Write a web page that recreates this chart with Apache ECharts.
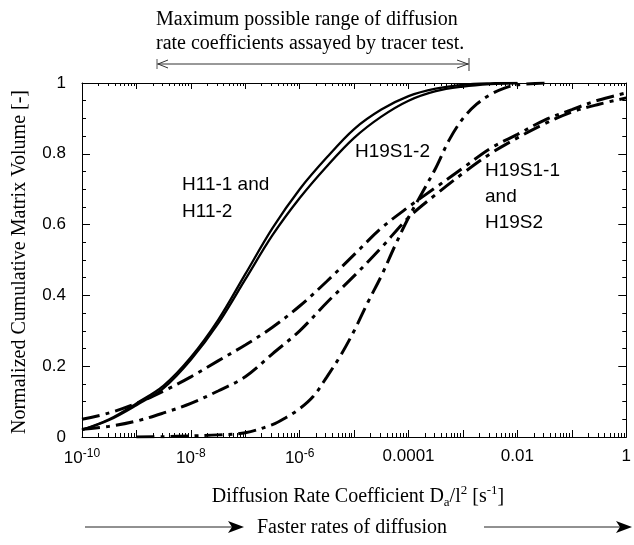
<!DOCTYPE html>
<html><head><meta charset="utf-8">
<script src="https://cdn.jsdelivr.net/npm/echarts@6/dist/echarts.min.js"></script>
<style>html,body{margin:0;padding:0;background:#fff}#c{width:634px;height:545px}</style>
</head><body><div id="c"></div>
<script>
// ---------- data ----------
// x samples: half-decade steps of Da/l^2 [1/s]
const halfDecadeD = [1e-10, 3.16e-10, 1e-9, 3.16e-9, 1e-8, 3.16e-8, 1e-7, 3.16e-7, 1e-6, 3.16e-6,
  1e-5, 3.16e-5, 1e-4, 3.16e-4, 1e-3, 3.16e-3, 1e-2, 3.16e-2, 0.1, 0.316, 1];
// solid curves (end at 0.01, where they reach 1)
const h11_1 = [0.02, 0.05, 0.095, 0.145, 0.225, 0.33, 0.46, 0.59, 0.70, 0.79, 0.87, 0.925, 0.963, 0.984, 0.995, 0.999, 1.0];
const h11_2 = [0.02, 0.048, 0.09, 0.138, 0.218, 0.32, 0.445, 0.57, 0.675, 0.765, 0.845, 0.905, 0.95, 0.977, 0.99, 0.997, 1.0];
// shallow dash-dot curves
const h19s1_1 = [0.05, 0.068, 0.095, 0.13, 0.17, 0.215, 0.26, 0.31, 0.37, 0.44, 0.515, 0.59, 0.65, 0.705, 0.76, 0.815, 0.855, 0.895, 0.925, 0.952, 0.972];
const h19s2   = [0.022, 0.03, 0.045, 0.068, 0.095, 0.13, 0.17, 0.235, 0.30, 0.38, 0.455, 0.535, 0.62, 0.685, 0.745, 0.80, 0.845, 0.885, 0.918, 0.94, 0.958];
// steep dash-dot curve H19S1-2 (quarter-decade samples)
const steepD = [1e-9, 3.16e-9, 1e-8, 3.16e-8, 1e-7, 3.16e-7, 5.62e-7, 1e-6, 1.78e-6, 3.16e-6, 5.62e-6,
  1e-5, 1.78e-5, 3.16e-5, 5.62e-5, 1e-4, 1.78e-4, 3.16e-4, 5.62e-4, 1e-3, 1.78e-3, 3.16e-3, 5.62e-3, 1e-2, 3.16e-2];
const h19s1_2 = [0, 0.001, 0.003, 0.006, 0.012, 0.035, 0.055, 0.08, 0.115, 0.17, 0.23,
  0.30, 0.38, 0.455, 0.54, 0.62, 0.69, 0.76, 0.84, 0.90, 0.94, 0.967, 0.985, 0.995, 1.0];

// tick labels
const xTickValues = [1e-10, 1e-8, 1e-6, 1e-4, 1e-2, 1];
const xTickText = ['10{sup|-10}', '10{sup|-8}', '10{sup|-6}', '0.0001', '0.01', '1'];
const yTickValues = [0, 0.2, 0.4, 0.6, 0.8, 1];

// ---------- helpers ----------
const SERIF = '"Liberation Serif","Times New Roman",serif';
const SANS = '"Liberation Sans",Arial,sans-serif';
const decadeTicks = [];
const minorTicks = [];
for (let e = -10; e <= 0; e++) {
  decadeTicks.push(Number('1e' + e));
  if (e < 0) for (let m = 2; m <= 9; m++) minorTicks.push(Number(m + 'e' + e));
}
function pairs(xs, ys) { return ys.map((y, i) => [xs[i], y]); }
function xLabel(v) {
  const i = xTickValues.findIndex(t => Math.abs(Math.log10(t) - Math.log10(v)) < 1e-6);
  return i >= 0 ? xTickText[i] : '';
}
const ink = '#000';
const solid = { color: ink, width: 2.3, type: 'solid' };
const dashdot = { color: ink, width: 3, type: [18, 6, 4, 6] };

function xAxisDef(pos, ticks, len, withLine, withLabel) {
  return {
    type: 'log', logBase: 10, min: 1e-10, max: 1, position: pos,
    axisLine: { show: withLine, lineStyle: { color: ink, width: 1 } },
    axisTick: { show: true, inside: true, length: len, customValues: ticks, lineStyle: { color: ink, width: 1 } },
    minorTick: { show: false },
    splitLine: { show: false },
    axisLabel: withLabel ? {
      show: true, customValues: xTickValues, formatter: xLabel, margin: 11,
      color: ink, fontSize: 17, fontFamily: SANS,
      rich: { sup: { fontSize: 12, fontFamily: SANS, color: ink, padding: [0, 0, 9, 0] } }
    } : { show: false }
  };
}
function yAxisDef(pos, withLabel) {
  return {
    type: 'value', min: 0, max: 1, interval: 0.2, position: pos,
    axisLine: { show: true, lineStyle: { color: ink, width: 1 } },
    axisTick: { show: true, inside: true, length: 8, lineStyle: { color: ink } },
    minorTick: { show: true, splitNumber: 4, length: 4, lineStyle: { color: ink } },
    splitLine: { show: false },
    axisLabel: withLabel ? {
      show: true, margin: 16, color: ink, fontSize: 17, fontFamily: SANS,
      customValues: yTickValues,
      formatter: v => (v === 0 ? '0' : v === 1 ? '1' : String(Math.round(v * 10) / 10))
    } : { show: false }
  };
}
function curve(name, xs, ys, style) {
  return { name, type: 'line', xAxisIndex: 0, yAxisIndex: 0, data: pairs(xs, ys),
    showSymbol: false, smooth: 0.35, lineStyle: style };
}

const chart = echarts.init(document.getElementById('c'), null, { renderer: 'canvas' });
chart.setOption({
  animation: false,
  backgroundColor: '#fff',
  grid: { left: 82, right: 4, top: 83, bottom: 108, containLabel: false },
  xAxis: [
    xAxisDef('bottom', decadeTicks, 7, true, true),
    xAxisDef('bottom', minorTicks, 4, false, false),
    xAxisDef('top', decadeTicks, 6, true, false),
    xAxisDef('top', minorTicks, 3, false, false)
  ],
  yAxis: [yAxisDef('left', true), yAxisDef('right', false)],
  series: [
    curve('H11-1', halfDecadeD, h11_1, solid),
    curve('H11-2', halfDecadeD, h11_2, solid),
    curve('H19S1-1', halfDecadeD, h19s1_1, dashdot),
    curve('H19S2', halfDecadeD, h19s2, dashdot),
    curve('H19S1-2', steepD, h19s1_2, dashdot)
  ],
  graphic: [
    // title above the plot
    { type: 'text', left: 156, top: 10, style: { text: 'Maximum possible range of diffusion', fill: ink, font: '20px ' + SERIF } },
    { type: 'text', left: 156, top: 34, style: { text: 'rate coefficients assayed by tracer test.', fill: ink, font: '20px ' + SERIF } },
    // range arrow
    { type: 'line', shape: { x1: 157, y1: 64, x2: 469, y2: 64 }, style: { stroke: '#333', lineWidth: 1 } },
    { type: 'polyline', shape: { points: [[168, 60], [158, 64], [168, 68]] }, style: { stroke: '#333', lineWidth: 1, fill: null } },
    { type: 'line', shape: { x1: 157, y1: 59, x2: 157, y2: 69 }, style: { stroke: '#555', lineWidth: 1 } },
    { type: 'polyline', shape: { points: [[457, 60], [468, 64], [457, 68]] }, style: { stroke: '#333', lineWidth: 1, fill: null } },
    { type: 'line', shape: { x1: 469, y1: 58, x2: 469, y2: 71 }, style: { stroke: '#333', lineWidth: 1 } },
    // in-plot annotations
    { type: 'text', left: 182, top: 171, style: { text: 'H11-1 and\nH11-2', fill: ink, font: '19px ' + SANS, lineHeight: 27 } },
    { type: 'text', left: 355, top: 142, style: { text: 'H19S1-2', fill: ink, font: '19px ' + SANS } },
    { type: 'text', left: 485, top: 158, style: { text: 'H19S1-1\nand\nH19S2', fill: ink, font: '19px ' + SANS, lineHeight: 26 } },
    // y axis title
    { type: 'text', x: 20, y: 262, rotation: Math.PI / 2,
      style: { text: 'Normalized Cumulative Matrix Volume [-]', fill: ink, font: '20px ' + SERIF, align: 'center', verticalAlign: 'middle' } },
    // x axis title
    { type: 'text', x: 358, y: 497,
      style: { text: 'Diffusion Rate Coefficient D{sub|a}/l{sup|2} [s{sup|-1}]', fill: ink, font: '20px ' + SERIF,
        align: 'center', verticalAlign: 'middle',
        rich: { sub: { fontSize: 13, fontFamily: SERIF, fill: ink, padding: [12, 0, 0, 0] },
                sup: { fontSize: 13, fontFamily: SERIF, fill: ink, padding: [0, 0, 12, 0] } } } },
    // bottom direction note
    { type: 'text', x: 352, y: 528,
      style: { text: 'Faster rates of diffusion', fill: ink, font: '20px ' + SERIF, align: 'center', verticalAlign: 'middle' } },
    { type: 'line', shape: { x1: 85, y1: 527, x2: 236, y2: 527 }, style: { stroke: '#222', lineWidth: 1 } },
    { type: 'polygon', shape: { points: [[228, 521], [244, 527], [228, 533], [232, 527]] }, style: { fill: ink } },
    { type: 'line', shape: { x1: 484, y1: 527, x2: 624, y2: 527 }, style: { stroke: '#222', lineWidth: 1 } },
    { type: 'polygon', shape: { points: [[616, 521], [632, 527], [616, 533], [620, 527]] }, style: { fill: ink } }
  ]
});
</script>
</body></html>
